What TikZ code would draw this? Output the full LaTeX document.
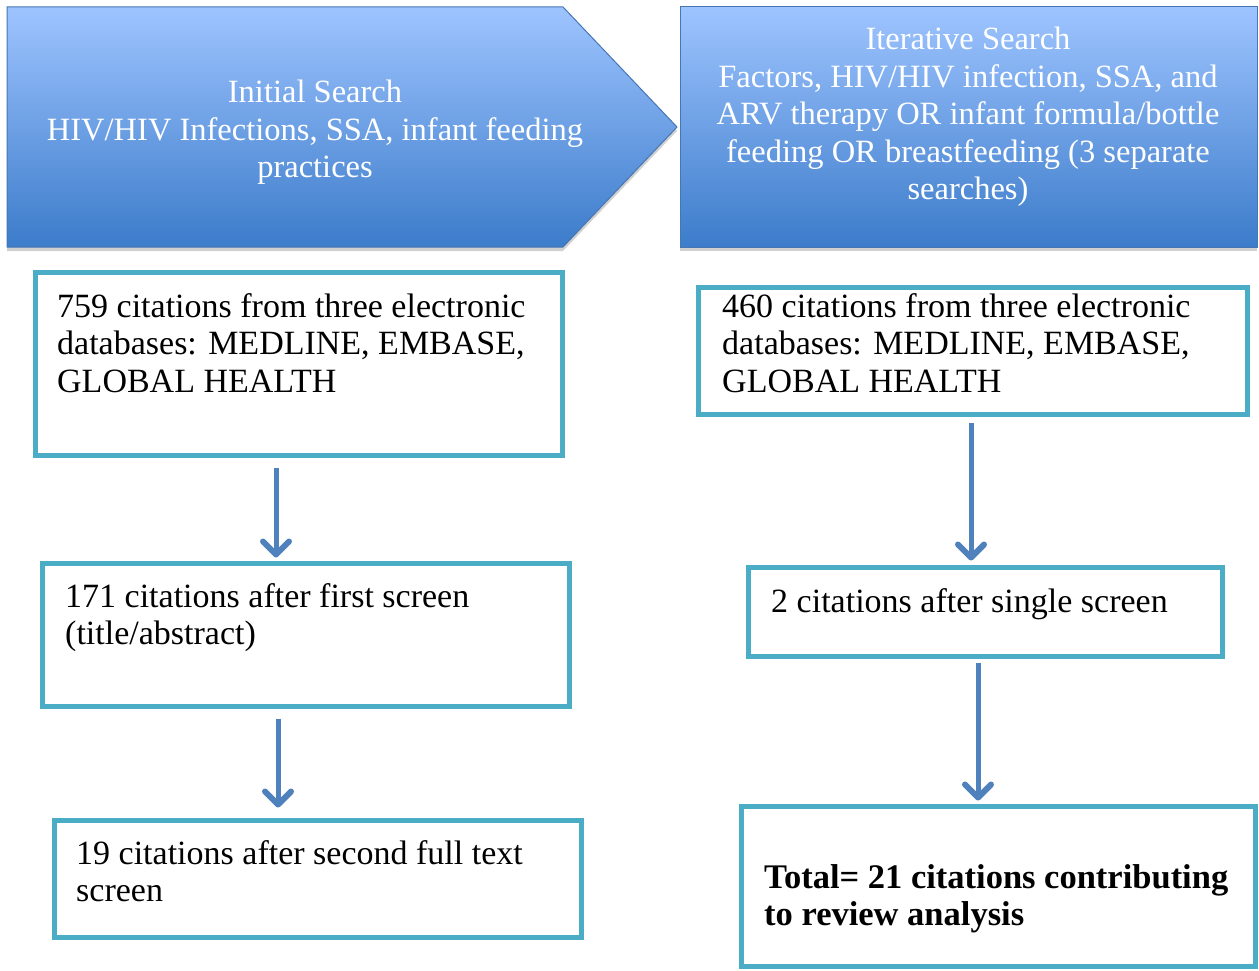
\documentclass[tikz,border=0pt]{standalone}
\usepackage{fontspec}
\setmainfont{Liberation Serif}
\usetikzlibrary{arrows.meta,shadows}
\definecolor{boxteal}{RGB}{75,172,198}
\definecolor{arrblue}{RGB}{79,129,189}
\definecolor{gradtop}{RGB}{158,196,255}
\definecolor{gradbot}{RGB}{60,124,202}
\definecolor{gradedge}{RGB}{70,118,180}
\tikzset{
  citebox/.style={draw=boxteal, line width=5pt, fill=white, inner sep=0pt},
  bodytext/.style={inner sep=0pt, anchor=north west, align=left, font=\fontsize{34}{37.5}\selectfont},
  headtext/.style={inner sep=0pt, anchor=north, align=center, text=white, font=\fontsize{32.5}{37.5}\selectfont},
  headshape/.style={top color=gradtop, bottom color=gradbot, draw=gradedge, line width=1pt,
    drop shadow={shadow xshift=0pt, shadow yshift=-4pt, opacity=0.3, fill=black!60}},
  flow/.style={draw=arrblue, line width=5pt, -{Straight Barb[length=13pt, width=26pt, line width=6pt, round]}},
}
\begin{document}
\begin{tikzpicture}[x=1pt, y=-1pt]
\useasboundingbox (0,0) rectangle (1259,971);
\fill[white] (0,0) rectangle (1259,971);

% header shapes
\path[headshape] (7,7) -- (563,7) -- (677,127) -- (563,247) -- (7,247) -- cycle;
\path[headshape] (680,7) rectangle (1257,247);
\node[headtext] (h1) at (315,80) {Initial Search\\HIV/HIV Infections, SSA, infant feeding\\practices};
\node[headtext] (h2) at (968,27) {Iterative Search\\Factors, HIV/HIV infection, SSA, and\\ARV therapy OR infant formula/bottle\\feeding OR breastfeeding (3 separate\\searches)};

% boxes
\node[citebox, minimum width=527pt, minimum height=183pt] (l1) at (298.5,363.5) {};
\node[citebox, minimum width=527pt, minimum height=143pt] (l2) at (305.5,634.5) {};
\node[citebox, minimum width=527pt, minimum height=117pt] (l3) at (317.5,878.5) {};
\node[citebox, minimum width=549pt, minimum height=127pt] (r1) at (972.5,350.5) {};
\node[citebox, minimum width=474pt, minimum height=89pt] (r2) at (985,611.5) {};
\node[citebox, minimum width=514pt, minimum height=160pt] (r3) at (998,886) {};

% texts
\node[bodytext] (t1) at (57,293) {759 citations from three electronic\\databases: MEDLINE, EMBASE,\\GLOBAL HEALTH};
\node[bodytext] (t2) at (65,583) {171 citations after first screen\\(title/abstract)};
\node[bodytext] (t3) at (76,840) {19 citations after second full text\\screen};
\node[bodytext] (t4) at (722,293) {460 citations from three electronic\\databases: MEDLINE, EMBASE,\\GLOBAL HEALTH};
\node[bodytext] (t5) at (771,588) {2 citations after single screen};
\node[bodytext, font=\fontsize{34.5}{37.5}\selectfont\bfseries] (t6) at (764,864) {Total= 21 citations contributing\\to review analysis};

% connectors
\coordinate (xa) at (276,0);
\coordinate (xb) at (278,0);
\coordinate (xc) at (971,0);
\coordinate (xd) at (978,0);
\draw[flow] ([yshift=-10pt]l1.south -| xa) -- ([yshift=3pt]l2.north -| xa);
\draw[flow] ([yshift=-10pt]l2.south -| xb) -- ([yshift=10pt]l3.north -| xb);
\draw[flow] ([yshift=-6pt]r1.south -| xc) -- ([yshift=4pt]r2.north -| xc);
\draw[flow] ([yshift=-4pt]r2.south -| xd) -- ([yshift=3pt]r3.north -| xd);
\end{tikzpicture}
\end{document}
